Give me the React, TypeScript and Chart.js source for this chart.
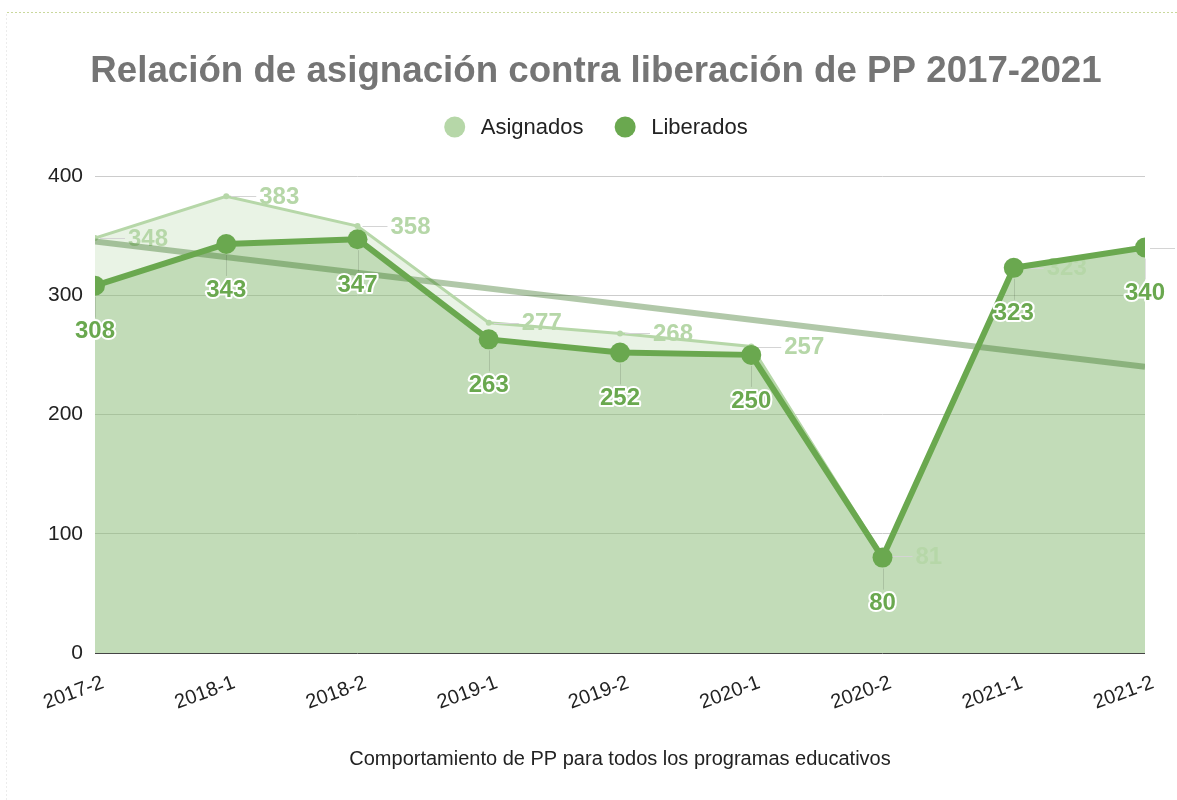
import React, { useEffect, useRef } from 'react';
import { Chart, registerables } from 'chart.js';

Chart.register(...registerables);

// ---- data ----
const categories = ['2017-2', '2018-1', '2018-2', '2019-1', '2019-2', '2020-1', '2020-2', '2021-1', '2021-2'];
const asignados = [348, 383, 358, 277, 268, 257, 81, 323, 340];
const liberados = [308, 343, 347, 263, 252, 250, 80, 323, 340];
const trendStart = 345;
const trendEnd = 240;
const yTicks = [0, 100, 200, 300, 400];
const seriesNames = ['Asignados', 'Liberados'];
const titleText = 'Relación de asignación contra liberación de PP 2017-2021';
const xTitleText = 'Comportamiento de PP para todos los programas educativos';

// ---- styles ----
const ASIG = '#b6d7a8';
const LIB = '#6aa84f';
const FONT = '"Liberation Sans", Arial, sans-serif';
const W = 1177;
const H = 800;

const decorPlugin = {
  id: 'decor',
  beforeDraw(chart: any) {
    const ctx = chart.ctx as CanvasRenderingContext2D;
    ctx.save();
    ctx.fillStyle = '#ffffff';
    ctx.fillRect(0, 0, W, H);
    // page decoration: dotted top rule + faint left rule
    ctx.lineWidth = 1;
    ctx.setLineDash([2, 2]);
    ctx.strokeStyle = '#c9d89c';
    ctx.beginPath();
    ctx.moveTo(7, 12.5);
    ctx.lineTo(W, 12.5);
    ctx.stroke();
    ctx.strokeStyle = '#ececec';
    ctx.beginPath();
    ctx.moveTo(6.5, 14);
    ctx.lineTo(6.5, H);
    ctx.stroke();
    ctx.setLineDash([]);

    // title
    ctx.fillStyle = '#757575';
    ctx.font = `bold 36.7px ${FONT}`;
    ctx.textAlign = 'center';
    ctx.textBaseline = 'alphabetic';
    ctx.fillText(titleText, 596, 82);

    // legend
    ctx.font = `22px ${FONT}`;
    const r = 10.5;
    const gapText = 26;
    const gapItem = 41.7;
    const w1 = ctx.measureText(seriesNames[0]).width;
    const w2 = ctx.measureText(seriesNames[1]).width;
    const total = r + gapText + w1 + gapItem + gapText + w2;
    const x0 = 596 - total / 2 + r;
    const ly = 127;
    const xs = [x0, x0 + gapText + w1 + gapItem];
    const cols = [ASIG, LIB];
    ctx.textAlign = 'left';
    ctx.textBaseline = 'middle';
    for (let i = 0; i < 2; i++) {
      ctx.fillStyle = cols[i];
      ctx.beginPath();
      ctx.arc(xs[i], ly, r, 0, Math.PI * 2);
      ctx.fill();
      ctx.fillStyle = '#222222';
      ctx.fillText(seriesNames[i], xs[i] + gapText, ly + 1);
    }

    // x axis title
    const { left, right } = chart.chartArea;
    ctx.font = `20px ${FONT}`;
    ctx.fillStyle = '#222222';
    ctx.textAlign = 'center';
    ctx.textBaseline = 'alphabetic';
    ctx.fillText(xTitleText, (left + right) / 2, 765);
    ctx.restore();
  },
  afterDatasetDraw(chart: any, args: any) {
    if (args.index !== 0) return;
    const ctx = chart.ctx as CanvasRenderingContext2D;
    const meta = chart.getDatasetMeta(0);
    ctx.save();
    ctx.font = `bold 24px ${FONT}`;
    ctx.textAlign = 'left';
    ctx.textBaseline = 'middle';
    meta.data.forEach((pt: any, i: number) => {
      ctx.strokeStyle = '#d4d4d4';
      ctx.lineWidth = 1;
      ctx.beginPath();
      ctx.moveTo(pt.x + 5, Math.round(pt.y) + 0.5);
      ctx.lineTo(pt.x + 30, Math.round(pt.y) + 0.5);
      ctx.stroke();
      ctx.fillStyle = ASIG;
      ctx.fillText(String(asignados[i]), pt.x + 33, pt.y + 1);
    });
    ctx.restore();
  },
  afterDatasetsDraw(chart: any) {
    const ctx = chart.ctx as CanvasRenderingContext2D;
    const meta = chart.getDatasetMeta(1);
    ctx.save();
    ctx.font = `bold 24px ${FONT}`;
    ctx.textAlign = 'center';
    ctx.textBaseline = 'middle';
    meta.data.forEach((pt: any, i: number) => {
      ctx.strokeStyle = 'rgba(0,0,0,0.12)';
      ctx.lineWidth = 1;
      ctx.beginPath();
      ctx.moveTo(Math.round(pt.x) + 0.5, pt.y + 11);
      ctx.lineTo(Math.round(pt.x) + 0.5, pt.y + 32);
      ctx.stroke();
      const ty = pt.y + 46;
      ctx.lineJoin = 'round';
      ctx.lineWidth = 4;
      ctx.strokeStyle = '#ffffff';
      ctx.strokeText(String(liberados[i]), pt.x, ty);
      ctx.fillStyle = LIB;
      ctx.fillText(String(liberados[i]), pt.x, ty);
    });
    ctx.restore();
  },
};

export default function App() {
  const ref = useRef<HTMLCanvasElement | null>(null);

  useEffect(() => {
    if (!ref.current) return;
    const chart = new Chart(ref.current, {
      type: 'line',
      data: {
        labels: categories,
        datasets: [
          {
            label: seriesNames[0],
            data: asignados,
            borderColor: ASIG,
            backgroundColor: 'rgba(182,215,168,0.3)',
            fill: 'origin',
            borderWidth: 3,
            pointRadius: 3,
            pointBackgroundColor: ASIG,
            pointBorderWidth: 0,
            tension: 0,
            order: 2,
            clip: 0,
          },
          {
            label: seriesNames[1],
            data: liberados,
            borderColor: LIB,
            backgroundColor: 'rgba(106,168,79,0.3)',
            fill: 'origin',
            borderWidth: 6,
            borderJoinStyle: 'round',
            pointRadius: 10,
            pointBackgroundColor: LIB,
            pointBorderWidth: 0,
            tension: 0,
            order: 0,
            clip: 0,
          },
          {
            label: 'Tendencia',
            data: [
              { x: categories[0], y: trendStart },
              { x: categories[categories.length - 1], y: trendEnd },
            ] as any,
            borderColor: 'rgba(50,110,30,0.38)',
            borderWidth: 6,
            pointRadius: 0,
            fill: false,
            order: 1,
            clip: 0,
          },
        ],
      },
      options: {
        responsive: false,
        animation: false,
        devicePixelRatio: 1,
        layout: { padding: { top: 176, right: 32, left: 0, bottom: 0 } },
        plugins: {
          legend: { display: false },
          title: { display: false },
          tooltip: { enabled: false },
          filler: { drawTime: 'beforeDatasetsDraw' } as any,
        },
        scales: {
          x: {
            type: 'category',
            offset: false,
            grid: { display: false, drawTicks: false },
            border: { display: false },
            ticks: {
              font: { family: FONT, size: 20 },
              color: '#222222',
              minRotation: 20,
              maxRotation: 20,
              padding: 18,
              labelOffset: 8,
              autoSkip: false,
            },
            afterFit: (s: any) => {
              s.height = 147;
            },
          },
          y: {
            min: 0,
            max: 400,
            afterBuildTicks: (s: any) => {
              s.ticks = yTicks.map((v) => ({ value: v }));
            },
            grid: {
              drawTicks: false,
              color: (c: any) => (c.tick && c.tick.value === 0 ? '#444444' : '#cccccc'),
              lineWidth: 1,
            },
            border: { display: false },
            ticks: {
              font: { family: FONT, size: 21 },
              color: '#222222',
              padding: 12,
            },
            afterFit: (s: any) => {
              s.width = 95;
            },
          },
        },
      },
      plugins: [decorPlugin],
    });
    return () => chart.destroy();
  }, []);

  return (
    <div style={{ position: 'absolute', left: 0, top: 0, width: W, height: H }}>
      <canvas ref={ref} width={W} height={H} style={{ width: W, height: H, display: 'block' }} />
    </div>
  );
}
